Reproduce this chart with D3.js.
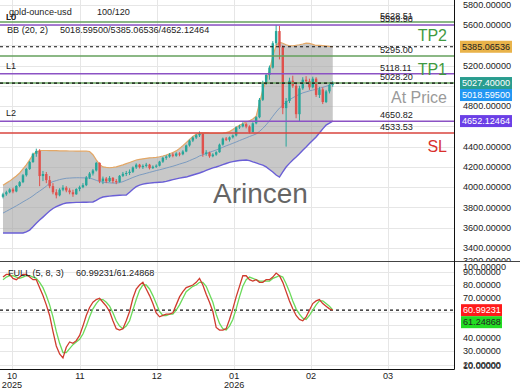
<!DOCTYPE html>
<html><head><meta charset="utf-8">
<script src="https://cdn.jsdelivr.net/npm/d3@7"></script>
<style>body{margin:0;background:#fff}svg{display:block}text{font-family:"Liberation Sans",Arial,sans-serif}</style>
</head><body><svg id="c" width="520" height="390"></svg>
<script>
// ---------- DATA ----------
const symbol = "gold-ounce-usd";
const countLabel = "100/120";
// [open, high, low, close]
const ohlc = [
[3905,3945,3890,3930],[3930,3965,3915,3950],[3950,3990,3940,3978],[3978,3995,3940,3958],[3958,4020,3950,4012],
[4012,4060,4000,4050],[4050,4130,4040,4118],[4118,4190,4105,4180],[4180,4260,4170,4248],[4248,4340,4240,4330],
[4330,4380,4300,4358],[4358,4375,4010,4110],[4110,4160,4060,4130],[4130,4150,4040,4070],[4070,4110,3990,4010],
[4010,4040,3930,3950],[3950,3980,3890,3920],[3920,3990,3910,3975],[3975,4020,3960,3995],[3995,4010,3950,3968],
[3968,3990,3930,3950],[3950,3975,3905,3930],[3930,3990,3925,3982],[3982,4015,3960,4000],[4000,4040,3990,4020],
[4020,4110,4010,4095],[4095,4150,4080,4135],[4135,4180,4115,4165],[4165,4250,4155,4240],[4240,4245,4040,4060],
[4060,4105,4030,4085],[4085,4100,4040,4058],[4058,4110,4050,4092],[4092,4100,4040,4060],[4060,4080,4030,4052],
[4052,4120,4045,4112],[4112,4150,4100,4132],[4132,4160,4110,4140],[4140,4175,4120,4152],[4152,4205,4140,4195],
[4195,4235,4180,4222],[4222,4230,4185,4198],[4198,4225,4180,4210],[4210,4240,4195,4222],[4222,4230,4175,4188],
[4188,4215,4180,4202],[4202,4225,4190,4212],[4212,4260,4205,4252],[4252,4300,4240,4290],[4290,4315,4270,4302],
[4302,4335,4290,4322],[4322,4340,4295,4310],[4310,4345,4300,4332],[4332,4345,4305,4325],[4325,4365,4315,4352],
[4352,4420,4345,4412],[4412,4470,4400,4460],[4460,4500,4445,4490],[4490,4525,4475,4512],[4512,4550,4495,4525],
[4525,4530,4300,4330],[4330,4365,4310,4342],[4342,4350,4290,4305],[4305,4335,4295,4322],[4322,4355,4310,4345],
[4345,4430,4340,4420],[4420,4490,4410,4480],[4480,4495,4455,4468],[4468,4500,4450,4492],[4492,4520,4480,4510],
[4510,4600,4500,4590],[4590,4615,4575,4600],[4600,4640,4590,4622],[4622,4635,4580,4598],[4598,4610,4530,4545],
[4545,4640,4540,4630],[4630,4700,4620,4690],[4690,4880,4680,4862],[4862,5050,4850,5030],[5030,5120,5010,5108],
[5108,5200,5060,5180],[5180,5440,5170,5420],[5420,5600,5400,5540],[5540,5590,5260,5380],[5380,5400,4720,4780],
[4780,4880,4400,4850],[4850,5080,4830,5050],[5050,5100,4980,5000],[5000,5020,4680,4720],[4720,5000,4650,4975],
[4975,5085,4960,5060],[5060,5095,5020,5045],[5045,5070,4960,4985],[4985,5090,4975,5070],[5070,5085,4890,4910],
[4910,4990,4880,4965],[4965,4985,4820,4840],[4840,4960,4830,4945],[4945,5035,4925,5010],[5010,5045,4990,5027.4]
];
const bbUpper = [
4020,4040,4060,4085,4110,4140,4180,4220,4270,4320,
4350,4360,4362,4362,4360,4360,4360,4358,4358,4358,
4357,4357,4356,4356,4355,4355,4352,4320,4270,4225,
4200,4195,4192,4195,4200,4210,4220,4232,4244,4256,
4268,4275,4280,4285,4290,4292,4295,4300,4308,4318,
4330,4342,4358,4382,4410,4440,4470,4500,4522,4534,
4535,4535,4533,4532,4532,4532,4534,4538,4548,4568,
4592,4610,4628,4643,4655,4672,4700,4830,4960,5050,
5150,5290,5400,5430,5420,5405,5395,5395,5400,5405,
5412,5420,5418,5408,5398,5400,5396,5392,5388,5385.06536];
const bbMiddle = [
3745,3762,3780,3798,3816,3835,3855,3874,3893,3915,
3940,3962,3985,4010,4041,4055,4065,4075,4082,4088,
4090,4092,4093,4093,4092,4091,4090,4080,4068,4056,
4050,4046,4043,4041,4041,4045,4055,4068,4082,4096,
4108,4120,4128,4137,4146,4155,4164,4172,4180,4189,
4198,4207,4217,4228,4238,4248,4262,4276,4290,4308,
4320,4332,4344,4355,4367,4380,4394,4408,4420,4433,
4446,4460,4473,4486,4500,4512,4525,4550,4580,4615,
4655,4700,4742,4780,4810,4840,4862,4882,4900,4915,
4930,4940,4950,4958,4965,4975,4985,4995,5007,5018.595];
const bbLower = [
3548,3548,3548,3548,3548,3548,3548,3560,3577,3610,
3645,3676,3705,3735,3765,3790,3808,3822,3835,3844,
3846,3848,3850,3850,3851,3852,3853,3854,3870,3890,
3903,3908,3912,3915,3918,3920,3922,3923,3950,3980,
4005,4021,4030,4036,4040,4044,4047,4049,4051,4058,
4066,4074,4082,4090,4096,4100,4110,4120,4130,4140,
4152,4165,4178,4190,4199,4210,4222,4234,4245,4252,
4258,4263,4266,4268,4262,4250,4240,4228,4218,4200,
4175,4150,4120,4100,4150,4199,4235,4268,4298,4330,
4365,4396,4430,4462,4495,4535,4575,4613,4632,4652.12464];
const stochK = [
86,88,88,85,84,86,88,88,86,84,
84,78,72,65,57,45,34,28,25,33,
37,36,38,42,49,57,63,67,69,70,
67,64,60,53,47,46,47,53,60,70,
77,80,82,77,72,66,59,56,57,58,
58,59,65,71,75,78,79,80,82,85,
80,73,67,60,48,46,46,47,54,62,
71,79,87,87,84,83,84,82,82,84,
84,86,89,87,82,75,68,62,57,54,
53,56,61,66,68,69,66,64,62,60.99231];
const stochD = [
84,86,87,87,86,85,86,87,87,86,
85,82,78,72,65,56,45,36,29,29,
32,35,37,39,43,49,56,62,66,69,
69,67,64,59,53,49,47,49,53,61,
69,76,80,80,77,72,66,60,57,57,
58,58,61,65,70,75,77,79,80,82,
82,79,73,67,58,51,47,46,49,54,
62,71,79,84,86,85,84,83,83,83,
83,85,86,87,86,81,75,68,62,58,
55,54,57,61,65,68,68,66,64,61.24868];
const bbHeader = "BB (20, 2)";
const bbValues = "5018.59500/5385.06536/4652.12464";
const stochHeader = "FULL (5, 8, 3)";
const stochValues = "60.99231/61.24868";
// horizontal levels
const levelValues = [5628.51, 5599.98, 5295.00, 5118.11, 5028.20, 4650.82, 4533.53];
const levelKinds  = ["tp", "line", "tp", "line", "tp", "line", "sl"];
const levelTexts  = ["5628.51","5599.98","5295.00","5118.11","5028.20","4650.82","4533.53"];
const lineNames = [["L0",5599.98],["L1",5118.11],["L2",4650.82]];
const zoneNames = [["TP2",5442],["TP1",5107],["At Price",4830],["SL",4347]];
const lastClose = 5027.4;
// month ticks (position in candle index units)
const monthLabels = ["10","11","12","01","02","03"];
const monthYears  = ["2025","","","2026","",""];
const monthPos    = [2.7, 23.1, 46.2, 69.4, 92.5, 115.6];
const priceTicks = [3200,3400,3600,3800,4000,4200,4400,4600,4800,5000,5200,5400,5600,5800];
const stochTicks = [10,20,30,40,50,60,70,80,90,100];

// ---------- CHART ----------
const svg = d3.select("#c");
const AX = 454, MAIN_B = 261, ST_T = 261, ST_B = 369;
const FS = 9.1;
const x = d3.scaleLinear().domain([-0.9, 135.4]).range([0, AX]);
const y = d3.scaleLinear().domain([3200, 5800]).range([268.3, 4.7]);
const ys = d3.scaleLinear().domain([0, 100]).range([391, 258.5]);
const idx = d3.range(ohlc.length);

const defs = svg.append("defs");
defs.append("clipPath").attr("id","cm").append("rect").attr("x",0).attr("y",0).attr("width",AX).attr("height",MAIN_B);
defs.append("clipPath").attr("id","cs").append("rect").attr("x",0).attr("y",ST_T).attr("width",AX).attr("height",ST_B-ST_T);
defs.append("clipPath").attr("id","ca").append("rect").attr("x",AX).attr("y",0).attr("width",520-AX).attr("height",MAIN_B);

const gm = svg.append("g").attr("clip-path","url(#cm)");
const gs = svg.append("g").attr("clip-path","url(#cs)");

// grid
const gridC = "#e6e6e6";
gm.selectAll(".hg").data(priceTicks).join("line")
  .attr("x1",0).attr("x2",AX).attr("y1",d=>Math.round(y(d))+0.5).attr("y2",d=>Math.round(y(d))+0.5)
  .attr("stroke",gridC);
gm.selectAll(".vg").data(monthPos).join("line")
  .attr("x1",d=>Math.round(x(d))+0.5).attr("x2",d=>Math.round(x(d))+0.5).attr("y1",0).attr("y2",MAIN_B)
  .attr("stroke",gridC);
gs.selectAll(".hg").data(stochTicks).join("line")
  .attr("x1",0).attr("x2",AX).attr("y1",d=>Math.round(ys(d))+0.5).attr("y2",d=>Math.round(ys(d))+0.5)
  .attr("stroke",gridC);
gs.selectAll(".vg").data(monthPos).join("line")
  .attr("x1",d=>Math.round(x(d))+0.5).attr("x2",d=>Math.round(x(d))+0.5).attr("y1",ST_T).attr("y2",ST_B)
  .attr("stroke",gridC);

// Bollinger band
gm.append("path").datum(idx)
  .attr("d", d3.area().x(i=>x(i)).y0(i=>y(bbLower[i])).y1(i=>y(bbUpper[i])))
  .attr("fill","#a0a0a0").attr("opacity",0.58);
const ln = arr => d3.line().x(i=>x(i)).y(i=>y(arr[i]));
gm.append("path").datum(idx).attr("d",ln(bbUpper)).attr("fill","none").attr("stroke","#e3a766").attr("stroke-width",1.2);
gm.append("path").datum(idx).attr("d",ln(bbMiddle)).attr("fill","none").attr("stroke","#7b9bc0").attr("stroke-width",1);
gm.append("path").datum(idx).attr("d",ln(bbLower)).attr("fill","none").attr("stroke","#6a5fd6").attr("stroke-width",1.4);

// candles
const upC = "#26a69a", dnC = "#e0514c";
const cg = gm.append("g");
cg.selectAll("line").data(idx).join("line")
  .attr("x1",i=>x(i)).attr("x2",i=>x(i))
  .attr("y1",i=>y(ohlc[i][1])).attr("y2",i=>y(ohlc[i][2]))
  .attr("stroke",i=>ohlc[i][3]>=ohlc[i][0]?upC:dnC).attr("stroke-width",1);
cg.selectAll("rect").data(idx).join("rect")
  .attr("x",i=>x(i)-1.2).attr("width",2.4)
  .attr("y",i=>y(Math.max(ohlc[i][0],ohlc[i][3])))
  .attr("height",i=>Math.max(1,Math.abs(y(ohlc[i][0])-y(ohlc[i][3]))))
  .attr("fill",i=>ohlc[i][3]>=ohlc[i][0]?upC:dnC);

// level lines
const kindColor = {tp:"#64a05c", line:"#8b52c4", sl:"#d8443e"};
gm.selectAll(".lvl").data(levelValues).join("line")
  .attr("x1",0).attr("x2",AX).attr("y1",d=>y(d)).attr("y2",d=>y(d))
  .attr("stroke",(d,i)=>kindColor[levelKinds[i]]).attr("stroke-width",1.5);
// dashed lines: BB upper last & last close
[bbUpper[bbUpper.length-1], lastClose].forEach(v=>{
  gm.append("line").attr("x1",0).attr("x2",AX).attr("y1",y(v)).attr("y2",y(v))
    .attr("stroke","#111").attr("stroke-width",1.2).attr("stroke-dasharray","3,3");
});
gm.selectAll(".lvt").data(levelValues).join("text")
  .attr("x",380).attr("y",d=>y(d)-3).text((d,i)=>levelTexts[i])
  .attr("font-size",FS).attr("fill","#222");
gm.selectAll(".ln").data(lineNames).join("text")
  .attr("x",6).attr("y",d=>y(d[1])-5).text(d=>d[0]).attr("font-size",FS).attr("fill","#222");
const zoneColor = {"TP2":"#3f9a3f","TP1":"#3f9a3f","At Price":"#9a9a9a","SL":"#d9302c"};
gm.selectAll(".zn").data(zoneNames).join("text")
  .attr("x",447).attr("y",d=>y(d[1])).attr("text-anchor","end").text(d=>d[0])
  .attr("font-size",16).attr("fill",d=>zoneColor[d[0]]);

// watermark
gm.append("text").attr("x",213).attr("y",203).text("Arincen")
  .attr("font-size",28).attr("fill","#555").attr("opacity",0.9);

// header texts
svg.append("text").attr("x",6).attr("y",20).text("L0").attr("font-size",FS).attr("fill","#222");
svg.append("text").attr("x",9).attr("y",15).text(symbol).attr("font-size",FS).attr("fill","#222");
svg.append("text").attr("x",97).attr("y",15).text(countLabel).attr("font-size",FS).attr("fill","#222");
svg.append("text").attr("x",7).attr("y",33).text(bbHeader).attr("font-size",FS).attr("fill","#222");
svg.append("text").attr("x",60).attr("y",33).text(bbValues).attr("font-size",FS).attr("fill","#222");

// stochastic
gs.append("line").attr("x1",0).attr("x2",AX).attr("y1",ys(stochK[stochK.length-1])).attr("y2",ys(stochK[stochK.length-1]))
  .attr("stroke","#111").attr("stroke-width",1.2).attr("stroke-dasharray","3,3");
const sl = arr => d3.line().x(i=>x(i)).y(i=>ys(arr[i]));
gs.append("path").datum(idx).attr("d",sl(stochD)).attr("fill","none").attr("stroke","#6ada5a").attr("stroke-width",1.3);
gs.append("path").datum(idx).attr("d",sl(stochK)).attr("fill","none").attr("stroke","#cf3b2e").attr("stroke-width",1.3);
svg.append("text").attr("x",8).attr("y",276).text(stochHeader).attr("font-size",FS).attr("fill","#222");
svg.append("text").attr("x",76).attr("y",276).text(stochValues).attr("font-size",FS).attr("fill","#222");

// frame lines
svg.append("line").attr("x1",0).attr("x2",520).attr("y1",ST_T+0.5).attr("y2",ST_T+0.5).attr("stroke","#444");
svg.append("line").attr("x1",AX+0.5).attr("x2",AX+0.5).attr("y1",0).attr("y2",ST_B+0.5).attr("stroke","#111");
svg.append("line").attr("x1",0).attr("x2",AX+0.5).attr("y1",ST_B+0.5).attr("y2",ST_B+0.5).attr("stroke","#111");

// value boxes
function placeBoxes(list, scale){
  const out = list.map(b=>Object.assign({}, b, {cy: scale(b.v)}));
  for(let k=1;k<out.length;k++){
    if(Math.abs(out[k].cy - out[k-1].cy) < 12) out[k].cy = out[k-1].cy+12;
  }
  return out;
}
const mainBoxes = placeBoxes([
  {v:bbUpper[bbUpper.length-1], t:"5385.06536", f:"#e9b34a", c:"#222"},
  {v:lastClose, t:"5027.40000", f:"#2a9d8f", c:"#fff"},
  {v:bbMiddle[bbMiddle.length-1], t:"5018.59500", f:"#2196f3", c:"#fff"},
  {v:bbLower[bbLower.length-1], t:"4652.12464", f:"#6b3fe6", c:"#fff"}
], y);
const stBoxes = placeBoxes([
  {v:stochK[stochK.length-1], t:"60.99231", f:"#ff1a1a", c:"#fff"},
  {v:stochD[stochD.length-1], t:"61.24868", f:"#22dd22", c:"#222"}
], ys);

// axis labels main
const ga = svg.append("g").attr("clip-path","url(#ca)");
ga.selectAll("text").data(priceTicks.filter(t=>!mainBoxes.some(b=>Math.abs(b.cy-y(t))<10))).join("text")
  .attr("x",463).attr("y",t=>Math.min(y(t),261)).attr("dy","0.35em").text(t=>t.toFixed(5))
  .attr("font-size",FS).attr("fill","#222");
// stoch axis labels
svg.selectAll(".sa").data(stochTicks.filter(t=>!stBoxes.some(b=>Math.abs(b.cy-ys(t))<10))).join("text")
  .attr("x",463).attr("y",t=>Math.max(267,Math.min(366,ys(t)))).attr("dy","0.35em").text(t=>t.toFixed(5))
  .attr("font-size",FS).attr("fill","#222");

function drawBoxes(list, x0, w){
  list.forEach(b=>{
    svg.append("rect").attr("x",x0).attr("y",b.cy-6).attr("width",w).attr("height",12).attr("fill",b.f);
    svg.append("text").attr("x",x0+2).attr("y",b.cy).attr("dy","0.35em").text(b.t)
      .attr("font-size",FS).attr("fill",b.c);
  });
}
drawBoxes(mainBoxes, 460, 52);
drawBoxes(stBoxes, 461, 41);

// x axis labels
svg.selectAll(".xm").data(monthPos).join("text")
  .attr("x",d=>x(d)).attr("y",379).attr("text-anchor","middle").text((d,i)=>monthLabels[i])
  .attr("font-size",FS).attr("fill","#222");
svg.selectAll(".xy").data(monthPos).join("text")
  .attr("x",d=>x(d)).attr("y",388).attr("text-anchor","middle").text((d,i)=>monthYears[i])
  .attr("font-size",FS).attr("fill","#222");
</script></body></html>
